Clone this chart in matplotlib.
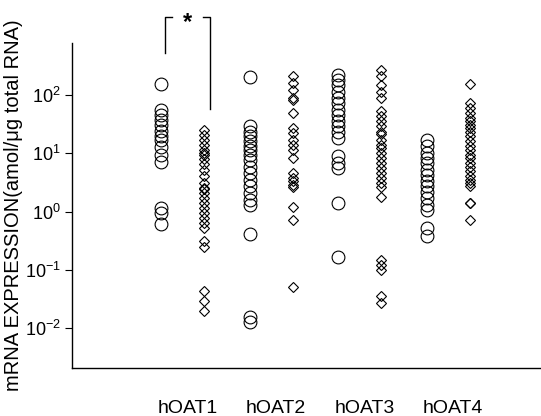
import numpy as np
import matplotlib.pyplot as plt

plt.rcParams['font.family'] = ['Liberation Sans', 'DejaVu Sans']
plt.rcParams['mathtext.fontset'] = 'custom'
plt.rcParams['mathtext.rm'] = 'Liberation Sans'
plt.rcParams['mathtext.it'] = 'Liberation Sans'

genes = ['hOAT1', 'hOAT2', 'hOAT3', 'hOAT4']

# circles (first column of each group)
circ = [
    [155, 55, 45, 37, 30, 24, 20, 17, 13, 9.5, 7.0, 1.15, 0.95, 0.62],
    [205, 29, 23.5, 19.4, 15.9, 13.1, 11.5, 9.4, 7.7, 5.9, 4.6, 3.5, 2.7, 2.1,
     1.6, 1.3, 0.42, 0.016, 0.013],
    [220, 180, 148, 114, 88, 72, 55, 45, 35, 29, 23.5, 18, 8.9, 6.8, 5.6,
     1.4, 0.17],
    [17, 13.1, 10, 8.3, 6.8, 5.2, 4.3, 3.3, 2.7, 2.2, 1.7, 1.3, 1.07, 0.52,
     0.38],
]
# diamonds (second column of each group)
diam = [
    [24.6, 20.8, 17, 14, 11.5, 10, 9.4, 7.9, 6.6, 5.2, 4.0, 3.1, 2.5, 2.4, 2.1,
     1.7, 1.4, 1.15, 0.95, 0.78, 0.64, 0.52, 0.31, 0.25, 0.043, 0.029, 0.020],
    [206, 158, 122, 88, 80, 49, 27, 22, 17, 14, 11.5, 8.3, 4.6, 3.8, 3.3, 2.9,
     2.6, 1.2, 0.73, 0.052],
    [268, 206, 148, 114, 88, 52, 43, 35, 29, 23.5, 21, 17, 14, 12.3, 10, 8.3,
     6.8, 5.6, 4.6, 3.8, 3.1, 2.6, 1.8, 0.15, 0.12, 0.10, 0.036, 0.027],
    [155, 72, 59, 49, 40, 35, 31, 27, 23.5, 19.4, 15.9, 13.1, 11.5, 9.4, 8.3,
     6.8, 5.9, 4.9, 4.0, 3.5, 3.1, 2.7, 1.4, 1.38, 0.73],
]

fig = plt.figure(figsize=(5.41, 4.16), dpi=100)
ax = fig.add_axes([0.133, 0.115, 0.867, 0.782])

off = 0.243
for i in range(4):
    ax.plot(np.full(len(circ[i]), i - off), circ[i], 'o', ms=9.2,
            mfc='none', mec='black', mew=0.8)
    ax.plot(np.full(len(diam[i]), i + off), diam[i], 'D', ms=5.6,
            mfc='none', mec='black', mew=0.8)

ax.set_yscale('log')
ax.set_ylim(10**-2.68, 10**2.89)
ax.set_xlim(-1.254, 4.045)
ax.set_yticks([1e-2, 1e-1, 1, 10, 100])
ax.minorticks_off()
ax.tick_params(axis='y', direction='out', length=5, width=0.8, labelsize=13, pad=3)
ax.set_xticks(np.arange(4) + 0.05)
ax.set_xticklabels(genes)
ax.tick_params(axis='x', length=0, labelsize=14, pad=23)
for s in ['top', 'right']:
    ax.spines[s].set_visible(False)
for s in ['left', 'bottom']:
    ax.spines[s].set_linewidth(1.0)

ax.set_ylabel('mRNA EXPRESSION(amol/\u03bcg total RNA)', fontsize=14.5, labelpad=1)

# significance bracket
ax.plot([-0.203, -0.203, -0.124], [10**2.72, 10**3.33, 10**3.33], color='black',
        lw=1.0, clip_on=False)
ax.plot([0.226, 0.305, 0.305], [10**3.33, 10**3.33, 10**1.76], color='black',
        lw=1.0, clip_on=False)
ax.text(0.056, 10**3.24, '*', ha='center', va='center', fontsize=17,
        fontweight='bold', clip_on=False)

fig.savefig('out.png', dpi=100)
